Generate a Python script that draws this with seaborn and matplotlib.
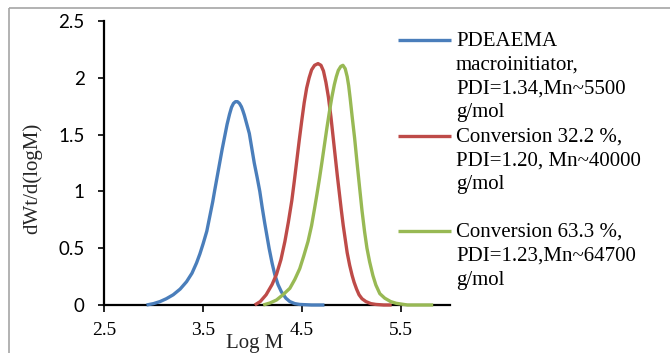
import numpy as np
import pandas as pd
import matplotlib
matplotlib.use("Agg")
import matplotlib.pyplot as plt
import seaborn as sns
from matplotlib.lines import Line2D
from matplotlib.patches import Rectangle

# ---------------- data ----------------
series_names = ["PDEAEMA macroinitiator", "Conversion 32.2 %", "Conversion 63.3 %"]
series_colors = ["#4A7EBB", "#BE4B48", "#98B954"]
legend_lines = [
    ["PDEAEMA", "macroinitiator,", "PDI=1.34,Mn~5500", "g/mol"],
    ["Conversion 32.2 %,", "PDI=1.20, Mn~40000", "g/mol"],
    ["Conversion 63.3 %,", "PDI=1.23,Mn~64700", "g/mol"],
]

blue_logm = [2.93, 3.00, 3.066, 3.13, 3.20, 3.27, 3.335, 3.39, 3.436, 3.47, 3.503, 3.54,
             3.57, 3.60, 3.62, 3.645, 3.67, 3.695, 3.72, 3.745, 3.77, 3.79, 3.81, 3.83,
             3.85, 3.87, 3.89, 3.905, 3.92, 3.945, 3.97, 3.995, 4.02, 4.05, 4.076, 4.10,
             4.126, 4.15, 4.17, 4.20, 4.227, 4.26, 4.295, 4.34, 4.38, 4.43, 4.48, 4.60, 4.73]
blue_val = [0.0, 0.012, 0.03, 0.055, 0.09, 0.14, 0.205, 0.28, 0.37, 0.45, 0.54, 0.65,
            0.78, 0.91, 1.01, 1.13, 1.25, 1.37, 1.48, 1.59, 1.68, 1.74, 1.775, 1.79,
            1.79, 1.775, 1.745, 1.71, 1.67, 1.59, 1.51, 1.38, 1.25, 1.12, 1.0, 0.86,
            0.72, 0.6, 0.5, 0.37, 0.27, 0.18, 0.115, 0.06, 0.03, 0.012, 0.005, 0.0, 0.0]

red_logm = [4.025, 4.08, 4.14, 4.20, 4.245, 4.29, 4.33, 4.365, 4.40, 4.425, 4.45, 4.475,
            4.50, 4.525, 4.55, 4.575, 4.60, 4.63, 4.665, 4.695, 4.72, 4.745, 4.77, 4.795,
            4.82, 4.84, 4.86, 4.88, 4.90, 4.92, 4.94, 4.96, 4.985, 5.01, 5.03, 5.055,
            5.08, 5.11, 5.15, 5.20, 5.25, 5.33, 5.41]
red_val = [0.0, 0.03, 0.09, 0.18, 0.27, 0.40, 0.56, 0.73, 0.92, 1.09, 1.27, 1.45,
           1.62, 1.78, 1.91, 2.0, 2.07, 2.11, 2.125, 2.11, 2.06, 1.96, 1.83, 1.66,
           1.46, 1.30, 1.14, 0.99, 0.84, 0.70, 0.58, 0.46, 0.35, 0.26, 0.20, 0.14,
           0.09, 0.055, 0.03, 0.012, 0.005, 0.0, 0.0]

green_logm = [4.11, 4.18, 4.245, 4.31, 4.38, 4.43, 4.48, 4.52, 4.564, 4.60, 4.63, 4.655,
              4.68, 4.705, 4.73, 4.755, 4.78, 4.805, 4.83, 4.85, 4.87, 4.895, 4.917,
              4.94, 4.96, 4.975, 4.99, 5.01, 5.035, 5.06, 5.086, 5.11, 5.136, 5.16,
              5.187, 5.22, 5.25, 5.29, 5.34, 5.40, 5.456, 5.57, 5.70, 5.83]
green_val = [0.0, 0.018, 0.044, 0.09, 0.147, 0.225, 0.32, 0.43, 0.56, 0.70, 0.85, 0.98,
             1.115, 1.26, 1.41, 1.56, 1.70, 1.83, 1.94, 2.01, 2.065, 2.10, 2.11,
             2.08, 2.01, 1.93, 1.82, 1.66, 1.47, 1.25, 1.03, 0.83, 0.645, 0.50,
             0.38, 0.26, 0.176, 0.10, 0.06, 0.03, 0.015, 0.0, 0.0, 0.0]

x_ticks = [2.5, 3.5, 4.5, 5.5]
y_ticks = [0, 0.5, 1, 1.5, 2, 2.5]
y_tick_labels = ["0", "0.5", "1", "1.5", "2", "2.5"]

frames = []
for name, xs, ys in zip(series_names,
                        [blue_logm, red_logm, green_logm],
                        [blue_val, red_val, green_val]):
    frames.append(pd.DataFrame({"logM": xs, "w": ys, "series": name}))
df = pd.concat(frames, ignore_index=True)

# ---------------- figure ----------------
sns.set_theme(style="ticks")
plt.rcParams["font.family"] = ["Liberation Serif", "DejaVu Serif"]

W, H = 670, 353
fig = plt.figure(figsize=(W / 100, H / 100), dpi=100)
fig.patch.set_facecolor("white")

def px(x, y):
    return x / W, 1 - y / H

ax = fig.add_axes([104 / W, 1 - 305 / H, (450 - 104) / W, (305 - 21) / H])
ax.set_facecolor("white")

sns.lineplot(data=df, x="logM", y="w", hue="series", hue_order=series_names,
             palette=series_colors, estimator=None, sort=False, linewidth=2.4,
             legend=False, ax=ax, zorder=3)
for ln in ax.lines:
    ln.set_clip_on(False)
    ln.set_solid_capstyle("butt")

ax.set_xlim(2.5, 6.0)
ax.set_ylim(0, 2.5)
ax.set_xticks(x_ticks)
ax.set_xticklabels([str(v) for v in x_ticks], fontsize=14, family="Liberation Serif")
ax.set_yticks(y_ticks)
ax.set_yticklabels(y_tick_labels, fontsize=13.5, family="Lato")

for s in ["top", "right"]:
    ax.spines[s].set_visible(False)
for s in ["left", "bottom"]:
    ax.spines[s].set_linewidth(1.6)
    ax.spines[s].set_color("black")
    ax.spines[s].set_zorder(2.5)

ax.tick_params(axis="y", direction="out", length=4, width=1.2, pad=10, colors="black")
ax.tick_params(axis="x", direction="out", length=5, width=1.2, pad=7, colors="black")

ax.set_xlabel("Log M", fontsize=15, family="Liberation Serif")
ax.xaxis.set_label_coords((255 - 104) / 346, (305 - 348) / 284)
ax.xaxis.label.set_va("baseline")
ax.set_ylabel("dWt/d(logM)", fontsize=15, family="Liberation Serif")
ax.yaxis.set_label_coords((32 - 104) / 346, (305 - 178) / 284)
ax.yaxis.label.set_va("center")

# ---------------- legend (drawn to the right of the plot) ----------------
handle_y = [40, 136, 231]
text_y = [[41, 65, 89, 113], [137, 161, 185], [232, 256, 280]]
for color, hy, lines, tys in zip(series_colors, handle_y, legend_lines, text_y):
    x0, y0 = px(398, hy)
    x1, _ = px(451, hy)
    fig.add_artist(Line2D([x0, x1], [y0, y0], color=color, linewidth=2.4,
                          transform=fig.transFigure, solid_capstyle="butt"))
    for s, ty in zip(lines, tys):
        tx, tyf = px(456, ty)
        fig.text(tx, tyf, s, fontsize=15, family="Liberation Serif",
                 ha="left", va="center", color="black")

# outer chart frame
fig.add_artist(Rectangle(px(9, 8), (W + 20) / W, -(H + 20) / H,
                         transform=fig.transFigure, fill=False,
                         edgecolor="#a6a6a6", linewidth=1.2))

fig.savefig("out.png", dpi=100, facecolor="white")
